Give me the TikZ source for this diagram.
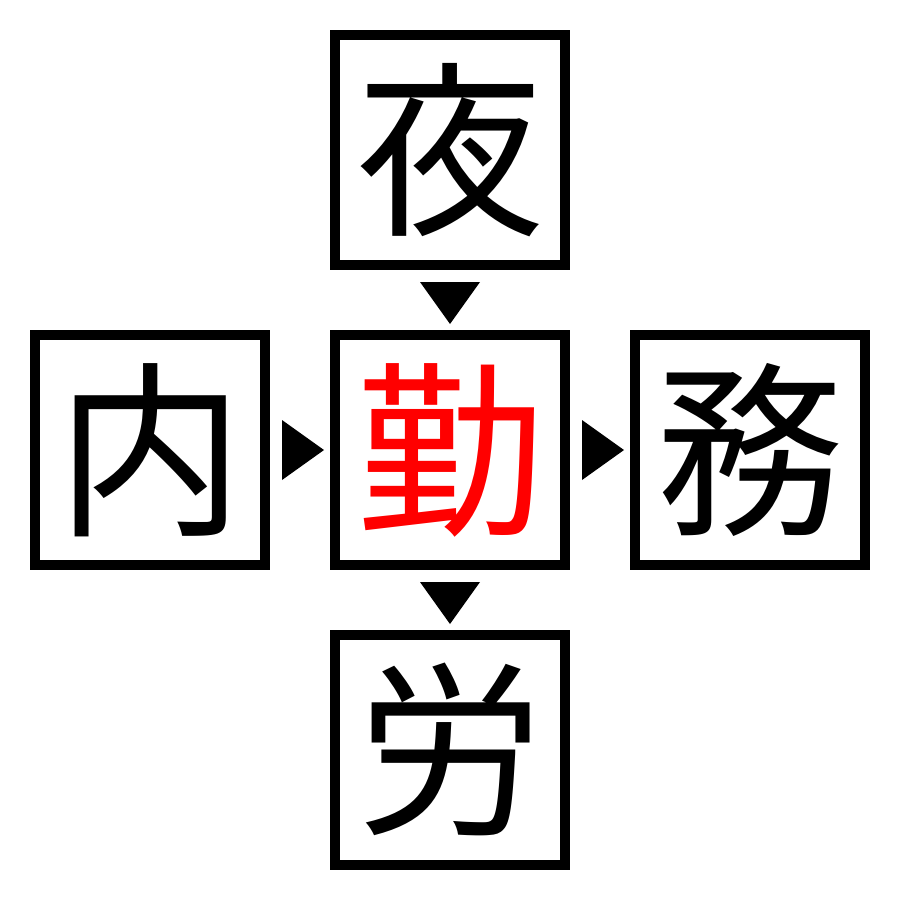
\documentclass[tikz,border=0pt]{standalone}
\usepackage{fontspec}
\usetikzlibrary{calc}
\newfontfamily\cjk{Noto Sans CJK JP}
\begin{document}
\begin{tikzpicture}[x=1pt,y=-1pt,
  kbox/.style={draw=black,line width=10pt,fill=white,minimum width=230pt,minimum height=230pt,inner sep=0pt,outer sep=0pt,font=\cjk\fontsize{188pt}{188pt}\selectfont},
  tri/.style={fill=black,draw=none}]
\useasboundingbox (0,0) rectangle (900,900);
\fill[white] (0,0) rectangle (900,900);
\node[kbox] (top) at (450,150) {夜};
\node[kbox,text=red] (mid) at (450,450) {勤};
\node[kbox] (left) at (150,450) {内};
\node[kbox] (right) at (750,450) {務};
\node[kbox] (bot) at (450,750) {労};
% down-pointing heads below top and mid
\fill[tri] ($(top.south)+(-30,17)$) -- ($(top.south)+(30,17)$) -- ($(mid.north)+(0,-11)$) -- cycle;
\fill[tri] ($(mid.south)+(-30,17)$) -- ($(mid.south)+(30,17)$) -- ($(bot.north)+(0,-11)$) -- cycle;
% right-pointing heads right of left and mid
\fill[tri] ($(left.east)+(17,-30)$) -- ($(left.east)+(17,30)$) -- ($(mid.west)+(-11,0)$) -- cycle;
\fill[tri] ($(mid.east)+(17,-30)$) -- ($(mid.east)+(17,30)$) -- ($(right.west)+(-11,0)$) -- cycle;
\end{tikzpicture}
\end{document}
